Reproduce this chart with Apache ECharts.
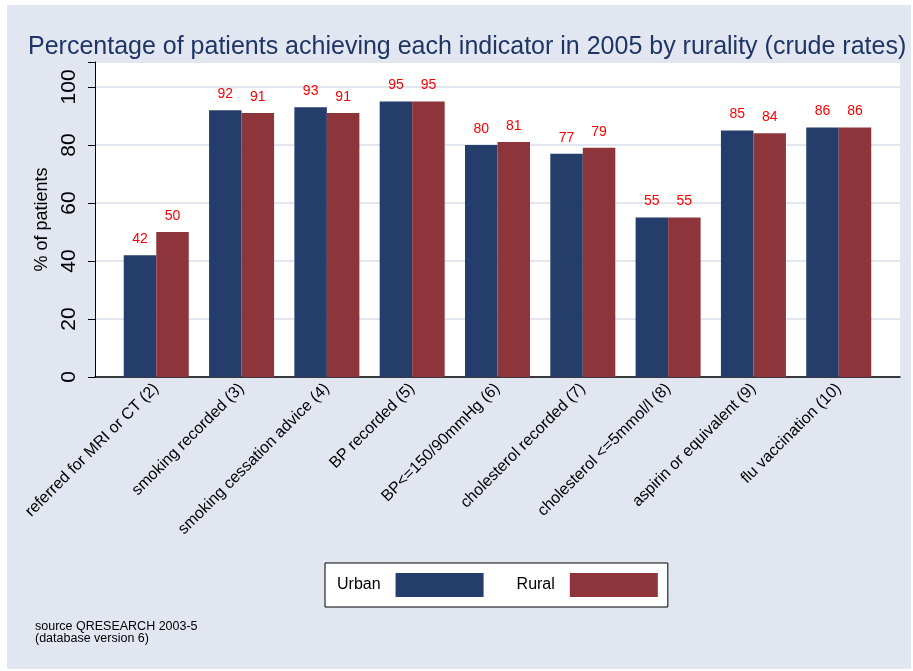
<!DOCTYPE html>
<html lang="en">
<head>
    <meta charset="UTF-8">
    <title>Indicators by rurality</title>
    <script src="https://cdn.jsdelivr.net/npm/echarts@6/dist/echarts.min.js"></script>
    <style>
      html, body { margin: 0; padding: 0; background: #fff; }
    </style>
</head>
<body>
    <div id="main" style="width: 913px;height:671px;"></div>
</body>

<script>
  // categories (indicator names)
  const categories = [
    'referred for MRI or CT (2)',
    'smoking recorded (3)',
    'smoking cessation advice (4)',
    'BP recorded (5)',
    'BP<=150/90mmHg (6)',
    'cholesterol recorded (7)',
    'cholesterol <=5mmol/l (8)',
    'aspirin or equivalent (9)',
    'flu vaccination (10)'
  ]
  // % of patients
  const urban = [42, 92, 93, 95, 80, 77, 55, 85, 86]
  const rural = [50, 91, 91, 95, 81, 79, 55, 84, 86]
  const yTicks = [0, 20, 40, 60, 80, 100]

  const font = 'Liberation Sans, Arial, sans-serif'
  const yMax = 108.6

  const myChart = echarts.init(document.getElementById('main'))

  const barLabel = {
    show: true,
    position: 'top',
    distance: 9,
    color: '#ff0000',
    fontSize: 14,
    fontFamily: font
  }

  const option = {
    backgroundColor: '#ffffff',
    animation: false,
    graphic: [
      // outer pale background
      { type: 'rect', z: -10, shape: { x: 7, y: 5, width: 904, height: 664 }, style: { fill: '#e1e6f0' } },
      {
        type: 'text', left: 35, top: 620,
        style: { text: 'source QRESEARCH 2003-5\n(database version 6)', fill: '#000', font: '12.5px ' + font, lineHeight: 12 }
      }
    ],
    title: {
      text: 'Percentage of patients achieving each indicator in 2005 by rurality (crude rates)',
      left: 23,
      top: 30,
      textStyle: { color: '#1e3566', fontSize: 25, fontWeight: 'normal', fontFamily: font }
    },
    legend: {
      left: 325,
      top: 563,
      align: 'right',
      itemWidth: 88,
      itemHeight: 24,
      itemGap: 33,
      padding: [10, 10, 10, 12],
      backgroundColor: '#fff',
      borderColor: '#000',
      borderWidth: 1,
      borderRadius: 0,
      icon: 'rect',
      textStyle: { fontSize: 16, color: '#000', fontFamily: font, padding: [0, 10, 0, 0] },
      data: ['Urban', 'Rural']
    },
    grid: [
      { left: 95, right: 13, top: 62, bottom: 294, show: true, backgroundColor: '#fff', borderWidth: 0 },
      { left: 113.6, right: 31.6, top: 62, bottom: 294 }
    ],
    xAxis: [
      {
        gridIndex: 0, type: 'value', min: 0, max: 1,
        axisLine: { show: true, onZero: false, lineStyle: { color: '#000', width: 1.5 } },
        axisTick: { show: false }, axisLabel: { show: false }, splitLine: { show: false }
      },
      {
        gridIndex: 1, type: 'category', data: categories,
        axisLine: { show: false }, axisTick: { show: false },
        axisLabel: { rotate: 45, fontSize: 16, color: '#000', fontFamily: font, margin: 9, interval: 0 }
      }
    ],
    yAxis: [
      {
        gridIndex: 0, type: 'value', min: 0, max: yMax, interval: 20,
        name: '% of patients', nameLocation: 'middle', nameGap: 41,
        nameTextStyle: { fontSize: 18, color: '#000', fontFamily: font },
        axisLine: { show: true, lineStyle: { color: '#000', width: 1 } },
        axisTick: { show: true, length: 7, lineStyle: { color: '#000' } },
        axisLabel: {
          rotate: 90, fontSize: 21, color: '#000', fontFamily: font, margin: 15,
          formatter: v => yTicks.includes(v) ? String(v) : ''
        },
        splitLine: { show: true, lineStyle: { color: '#e1e6f0', width: 2 } }
      },
      {
        gridIndex: 1, type: 'value', min: 0, max: yMax, show: false
      }
    ],
    series: [
      {
        name: 'Urban', type: 'bar', xAxisIndex: 1, yAxisIndex: 1,
        data: urban, barGap: 0, barCategoryGap: '23.8%',
        itemStyle: { color: '#253d6b' },
        label: barLabel
      },
      {
        name: 'Rural', type: 'bar', xAxisIndex: 1, yAxisIndex: 1,
        data: rural, barGap: 0, barCategoryGap: '23.8%',
        itemStyle: { color: '#8e353c' },
        label: barLabel
      }
    ]
  }

  myChart.setOption(option)
</script>

</html>
